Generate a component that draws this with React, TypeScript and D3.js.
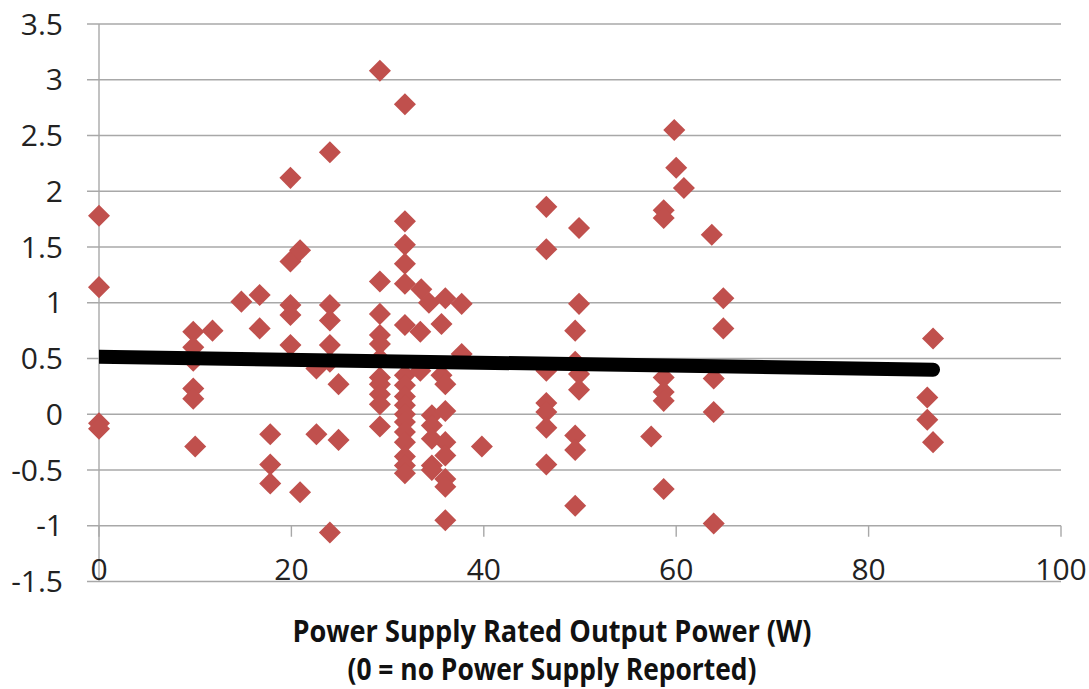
import React from "react";
import * as d3 from "d3";

// Data
const powerW = [
  0, 0, 0, 0,
  9.8, 9.8, 9.8, 9.8, 9.8, 10,
  11.8, 14.8, 16.7, 16.7,
  17.8, 17.8, 17.8,
  19.9, 19.9, 19.9, 19.9, 19.9,
  20.9, 20.9,
  22.6, 22.6,
  24, 24, 24, 24, 24, 24,
  24.9, 24.9,
  29.2, 29.2, 29.2, 29.2, 29.2, 29.2, 29.2, 29.2, 29.2, 29.2, 29.2,
  31.8, 31.8, 31.8, 31.8, 31.8, 31.8, 31.8, 31.8, 31.8, 31.8, 31.8, 31.8, 31.8, 31.8, 31.8, 31.8, 31.8,
  33.5, 34.3, 33.4, 33.4,
  34.6, 34.6, 34.6, 34.6, 34.6,
  35.6, 35.6,
  36, 36, 36, 36, 36, 36, 36, 36,
  37.7, 37.7,
  39.8,
  46.5, 46.5, 46.5, 46.5, 46.5, 46.5, 46.5,
  49.9, 49.9, 49.9, 49.9,
  49.5, 49.5, 49.5, 49.5, 49.5,
  57.4,
  58.7, 58.7, 58.7, 58.7, 58.7, 58.7,
  59.8, 60, 60.8,
  63.7, 63.9, 63.9, 63.9,
  64.9, 64.9,
  86.1, 86.1, 86.7, 86.7,
];

const deltaValue = [
  1.78, 1.14, -0.08, -0.13,
  0.74, 0.6, 0.48, 0.23, 0.14, -0.29,
  0.75, 1.01, 1.07, 0.77,
  -0.18, -0.45, -0.62,
  2.12, 1.37, 0.98, 0.89, 0.62,
  1.47, -0.7,
  0.41, -0.18,
  2.35, 0.98, 0.84, 0.62, 0.47, -1.06,
  0.27, -0.23,
  3.08, 1.19, 0.9, 0.71, 0.63, 0.5, 0.33, 0.27, 0.18, 0.09, -0.11,
  2.78, 1.73, 1.52, 1.35, 1.17, 0.8, 0.35, 0.26, 0.16, 0.08, 0.0, -0.07, -0.16, -0.25, -0.38, -0.46, -0.53,
  1.12, 1.0, 0.74, 0.39,
  -0.01, -0.1, -0.22, -0.46, -0.5,
  0.81, 0.35,
  1.04, 0.27, 0.03, -0.25, -0.37, -0.58, -0.65, -0.95,
  0.99, 0.54,
  -0.29,
  1.86, 1.48, 0.39, 0.1, 0.02, -0.12, -0.45,
  1.67, 0.99, 0.36, 0.22,
  0.75, 0.47, -0.19, -0.32, -0.82,
  -0.2,
  1.83, 1.76, 0.33, 0.2, 0.12, -0.67,
  2.55, 2.21, 2.03,
  1.61, 0.32, 0.02, -0.98,
  1.04, 0.77,
  0.15, -0.05, 0.68, -0.25,
];

const trendX = [0, 86.7];
const trendY = [0.515, 0.4];

const xTicks = [0, 20, 40, 60, 80, 100];
const yTicks = [-1.5, -1, -0.5, 0, 0.5, 1, 1.5, 2, 2.5, 3, 3.5];

const titleLines = [
  "Power Supply Rated Output Power (W)",
  "(0 = no Power Supply Reported)",
];

const W = 1089;
const H = 689;

export default function App() {
  const x = d3.scaleLinear().domain([0, 100]).range([99, 1061]);
  const y = d3.scaleLinear().domain([-1.5, 3.5]).range([581.5, 24]);
  const axisY = y(-1);
  const points = powerW.map((p, i) => ({ p, v: deltaValue[i] }));
  const diamond = d3.symbol().type(d3.symbolDiamond2).size(310)();
  const trend = d3
    .line<number>()
    .x((d) => x(d))
    .y((_, i) => y(trendY[i]))(trendX);
  const gridColor = "#a8a8a8";
  const font = "'Open Sans', 'Liberation Sans', sans-serif";

  return (
    <div style={{ position: "fixed", left: 0, top: 0 }}>
      <svg width={W} height={H} style={{ display: "block", background: "#fff" }}>
        <defs>
          <clipPath id="plotClip">
            <rect x={x(0)} y={0} width={x(100) - x(0) + 40} height={y(-1.5)} />
          </clipPath>
        </defs>
        {yTicks.map((t) => (
          <line
            key={"g" + t}
            x1={87}
            x2={x(100)}
            y1={y(t)}
            y2={y(t)}
            stroke={gridColor}
            strokeWidth={1.4}
          />
        ))}
        <line x1={x(0)} x2={x(0)} y1={y(3.5)} y2={y(-1.5)} stroke={gridColor} strokeWidth={1.4} />
        {xTicks.map((t) => (
          <line
            key={"xt" + t}
            x1={x(t)}
            x2={x(t)}
            y1={axisY}
            y2={axisY + 11}
            stroke={gridColor}
            strokeWidth={1.4}
          />
        ))}
        {yTicks.map((t) => (
          <text
            key={"yl" + t}
            x={63}
            y={y(t) + 10.7}
            textAnchor="end"
            fontFamily={font}
            fontSize={30}
            fill="#222"
          >
            {String(t)}
          </text>
        ))}
        {xTicks.map((t) => (
          <text
            key={"xl" + t}
            x={x(t)}
            y={580}
            textAnchor="middle"
            fontFamily={font}
            fontSize={30}
            fill="#222"
          >
            {String(t)}
          </text>
        ))}
        {points.map((d, i) => (
          <path
            key={"p" + i}
            d={diamond}
            transform={`translate(${x(d.p)},${y(d.v)})`}
            fill="#c0504d"
          />
        ))}
        <g clipPath="url(#plotClip)">
          <path d={trend || ""} fill="none" stroke="#000" strokeWidth={14} strokeLinecap="round" />
        </g>
        {titleLines.map((s, i) => (
          <text
            key={"t" + i}
            x={552}
            y={642 + i * 38}
            textAnchor="middle"
            fontFamily={font}
            fontWeight="bold"
            fontSize={30}
            fill="#111"
            textLength={i === 0 ? 519 : 409}
            lengthAdjust="spacingAndGlyphs"
          >
            {s}
          </text>
        ))}
      </svg>
    </div>
  );
}
